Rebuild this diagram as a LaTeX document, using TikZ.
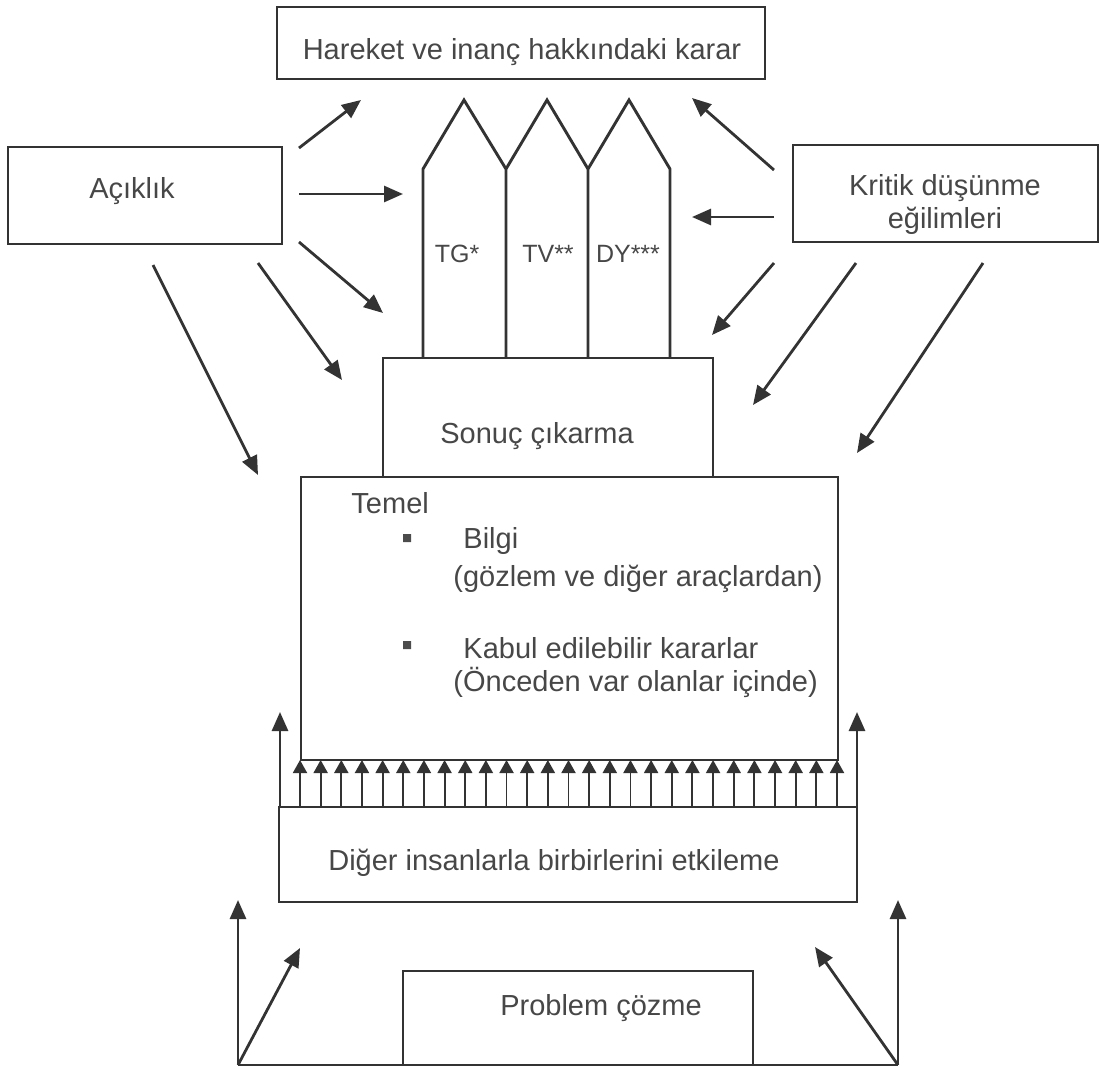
\documentclass[tikz,border=0pt]{standalone}
\usepackage{fontspec}
\setmainfont{Liberation Sans}
\usetikzlibrary{arrows.meta}
\tikzset{
  lbl/.style={text=black!72, font=\fontsize{29}{33}\selectfont, inner sep=0pt, anchor=base},
  tag/.style={lbl, font=\fontsize{25}{30}\selectfont},
  ok/.style={line width=2.8pt, -{Triangle[length=19pt,width=16pt]}},
  okcik/.style={line width=1.9pt, -{Triangle[length=13pt,width=14pt]}}
}
\begin{document}
\begin{tikzpicture}[x=1pt, y=-1pt, line width=2.9pt, color=black!80]
  \useasboundingbox (0,0) rectangle (1101,1069);
  \draw (277,7) rectangle (765,79)
        (8,147) rectangle (282,244)
        (793,145) rectangle (1098,242)
        (383,358) rectangle (713,477)
        (301,477) rectangle (838,760)
        (279,807) rectangle (857,902)
        (403,971) rectangle (753,1065);
  \draw[line join=miter] (423,358) -- (423,169) -- (464,100) -- (506,169) -- (547,100)
        -- (588,169) -- (629,100) -- (670,169) -- (670,358)
        (506,169) -- (506,358) (588,169) -- (588,358);
  \node[lbl] (karar) at (522,59) {Hareket ve inanç hakkındaki karar};
  \node[lbl] (acik) at (132,198) {Açıklık};
  \node[lbl, align=center] (kritik) at (945,228) {Kritik düşünme\\eğilimleri};
  \node[tag] (tg) at (457,262) {TG*};
  \node[tag] (tv) at (548,262) {TV**};
  \node[tag] (dy) at (628,262) {DY***};
  \node[lbl] (sonuc) at (537,443) {Sonuç çıkarma};
  \node[lbl, anchor=base west] (temel) at (350,513) {Temel};
  \node[lbl, anchor=base west] (bilgi) at (462,548) {Bilgi};
  \node[lbl, anchor=base west] (gozlem) at (452,586) {(gözlem ve diğer araçlardan)};
  \node[lbl, anchor=base west] (kabul) at (462,658) {Kabul edilebilir kararlar};
  \node[lbl, anchor=base west] (onceden) at (452,691) {(Önceden var olanlar içinde)};
  \fill[black!70] (403,534) rectangle +(8,8) (403,641) rectangle +(8,8);
  \node[lbl] (diger) at (554,870) {Diğer insanlarla birbirlerini etkileme};
  \node[lbl] (problem) at (601,1015) {Problem çözme};
  \path (299,148) coordinate (a1) (361,100) coordinate (b1)
        (299,194) coordinate (a2) (403,194) coordinate (b2)
        (299,242) coordinate (a3) (383,313) coordinate (b3)
        (258,263) coordinate (a4) (342,380) coordinate (b4)
        (153,265) coordinate (a5) (258,475) coordinate (b5)
        (774,170) coordinate (k1) (692,98) coordinate (m1)
        (774,217) coordinate (k2) (692,217) coordinate (m2)
        (774,263) coordinate (k3) (712,335) coordinate (m3)
        (856,263) coordinate (k4) (753,405) coordinate (m4)
        (983,263) coordinate (k5) (857,453) coordinate (m5)
        (280,807) coordinate (dl) (280,712) coordinate (tl)
        (857,807) coordinate (dr) (857,712) coordinate (tr)
        (238,1065) coordinate (ls) (238,900) coordinate (lu) (300,948) coordinate (ld)
        (898,1065) coordinate (rs) (898,900) coordinate (ru) (815,947) coordinate (rd);
  \foreach \s/\e in {a1/b1, a2/b2, a3/b3, a4/b4, a5/b5, k1/m1, k2/m2, k3/m3, k4/m4, k5/m5,
                     dl/tl, dr/tr, ls/lu, ls/ld, rs/ru, rs/rd}
    \draw[ok] (\s) -- (\e);
  \draw (ls) -- (rs);
  \foreach \i in {0,...,26} {
    \pgfmathsetmacro\xx{300+20.654*\i}
    \path (\xx,807) coordinate (u\i) (\xx,760) coordinate (v\i);
    \draw[okcik] (u\i) -- (v\i);
  }
\end{tikzpicture}
\end{document}
